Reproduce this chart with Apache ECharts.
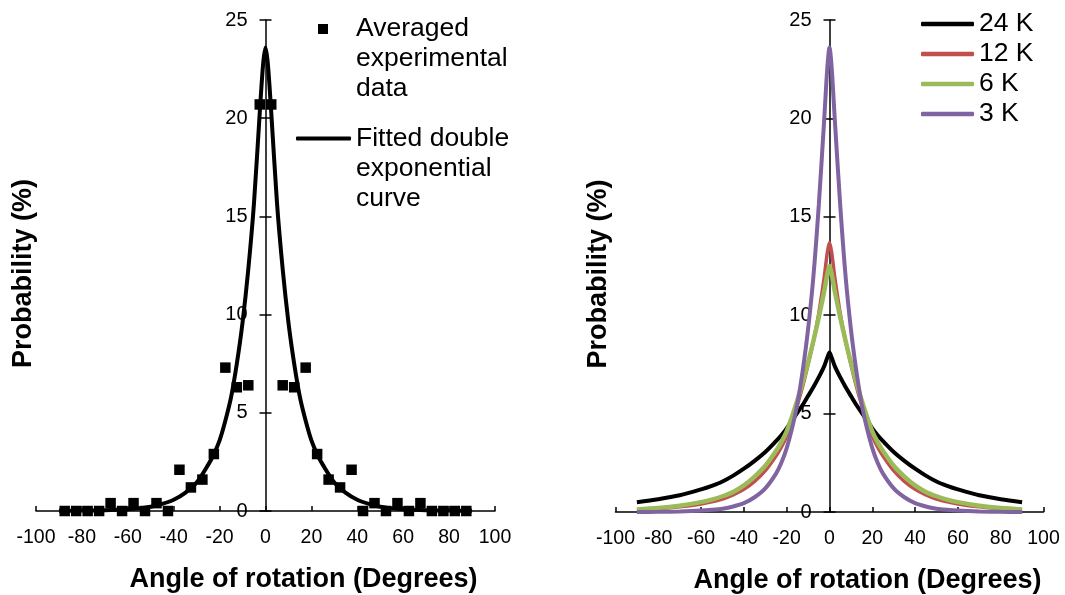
<!DOCTYPE html>
<html>
<head>
<meta charset="utf-8">
<script src="https://cdn.jsdelivr.net/npm/echarts@6/dist/echarts.min.js"></script>
<style>
html,body{margin:0;padding:0;background:#fff;}
#chart{width:1065px;height:595px;}
</style>
</head>
<body>
<div id="chart"></div>
<script>
// ---------- data ----------
const scatterAngles = [-87.5,-82.5,-77.5,-72.5,-67.5,-62.5,-57.5,-52.5,-47.5,-42.5,-37.5,-32.5,-27.5,-22.5,-17.5,-12.5,-7.5,-2.5,
  2.5,7.5,12.5,17.5,22.5,27.5,32.5,37.5,42.5,47.5,52.5,57.5,62.5,67.5,72.5,77.5,82.5,87.5];
const scatterValues = [0,0,0,0,0.4,0,0.4,0,0.4,0,2.1,1.2,1.6,2.9,7.3,6.3,6.4,20.7,
  20.7,6.4,6.3,7.3,2.9,1.6,1.2,2.1,0,0.4,0,0.4,0,0.4,0,0,0,0];

const curveAngles = [-90,-80,-70,-60,-55,-50,-45,-40,-35,-30,-25,-22.5,-20,-17.5,-15,-12.5,-10,-7.5,-5,-2.5,-1,0,
  1,2.5,5,7.5,10,12.5,15,17.5,20,22.5,25,30,35,40,45,50,55,60,70,80,90];

const fittedCurve = [0.01,0.02,0.04,0.09,0.14,0.22,0.36,0.57,0.92,1.45,2.35,2.9,3.6,4.6,5.8,7.5,9.6,12.3,15.7,20.3,22.8,23.6,
  22.8,20.3,15.7,12.3,9.6,7.5,5.8,4.6,3.6,2.9,2.35,1.45,0.92,0.57,0.36,0.22,0.14,0.09,0.04,0.02,0.01];

const curve24K = [0.5,0.65,0.85,1.15,1.33,1.55,1.85,2.2,2.6,3.05,3.6,3.9,4.25,4.65,5.05,5.45,5.9,6.35,6.85,7.4,7.85,8.1,
  7.85,7.4,6.85,6.35,5.9,5.45,5.05,4.65,4.25,3.9,3.6,3.05,2.6,2.2,1.85,1.55,1.33,1.15,0.85,0.65,0.5];
const curve12K = [0.1,0.16,0.26,0.41,0.52,0.66,0.87,1.15,1.55,2.1,2.85,3.3,3.85,4.6,5.45,6.4,7.5,8.7,10.1,11.9,13.2,13.7,
  13.2,11.9,10.1,8.7,7.5,6.4,5.45,4.6,3.85,3.3,2.85,2.1,1.55,1.15,0.87,0.66,0.52,0.41,0.26,0.16,0.1];
const curve6K = [0.13,0.2,0.32,0.5,0.63,0.8,1.02,1.35,1.8,2.35,3.1,3.55,4.1,4.85,5.7,6.6,7.6,8.7,9.9,11.2,12.1,12.5,
  12.1,11.2,9.9,8.7,7.6,6.6,5.7,4.85,4.1,3.55,3.1,2.35,1.8,1.35,1.02,0.8,0.63,0.5,0.32,0.2,0.13];
const curve3K = [0,0.01,0.03,0.07,0.11,0.17,0.28,0.45,0.75,1.2,1.95,2.5,3.25,4.25,5.5,7.2,9.3,12.0,15.6,19.9,22.6,23.6,
  22.6,19.9,15.6,12.0,9.3,7.2,5.5,4.25,3.25,2.5,1.95,1.2,0.75,0.45,0.28,0.17,0.11,0.07,0.03,0.01,0];

const xTickMin = -100, xTickMax = 100, xTickStep = 20;
const yTickMin = 0, yTickMax = 25, yTickStep = 5;

const leftNames = ['Averaged\nexperimental\ndata', 'Fitted double\nexponential\ncurve'];
const rightNames = ['24 K', '12 K', '6 K', '3 K'];
const rightColors = ['#000000', '#C0504D', '#9BBB59', '#8064A2'];
const xTitle = 'Angle of rotation (Degrees)';
const yTitle = 'Probability (%)';

// ---------- helpers ----------
const FONT = 'Liberation Sans, Arial, sans-serif';
const pairs = (xs, ys) => xs.map((x, i) => [x, ys[i]]);

// grid geometry (pixels)
const G = [
  { left: 36, right: 570, top: 20, bottom: 84, zeroX: 265.5, yNameGap: 228 },
  { left: 615.5, right: 21.5, top: 20, bottom: 83, zeroX: 829.5, yNameGap: 217 }
];

function xAxisFor(gridIndex) {
  return {
    type: 'value', gridIndex, min: xTickMin, max: xTickMax, interval: xTickStep,
    axisLine: { show: true, onZero: false, lineStyle: { color: '#000', width: 1.5 } },
    axisTick: { show: true, inside: true, length: 5, lineStyle: { color: '#000', width: 1.5 } },
    axisLabel: { color: '#000', fontSize: 19.5, fontFamily: FONT, margin: 17 },
    splitLine: { show: false },
    name: xTitle, nameLocation: 'middle', nameGap: 55,
    nameTextStyle: { color: '#000', fontSize: 27, fontWeight: 'bold', fontFamily: FONT, padding: [0, 0, 0, 76] }
  };
}
function yAxesFor(gridIndex) {
  const g = G[gridIndex];
  const base = {
    type: 'value', gridIndex, min: yTickMin, max: yTickMax, interval: yTickStep, position: 'left',
    offset: g.left - g.zeroX,
    splitLine: { show: false }
  };
  return [
    Object.assign({}, base, {
      axisLine: { show: true, onZero: false, lineStyle: { color: '#000', width: 1.5 } },
      axisTick: { show: true, inside: false, length: 6, lineStyle: { color: '#000', width: 1.5 } },
      axisLabel: { color: '#000', fontSize: 20, fontFamily: FONT, margin: 18 },
      name: yTitle, nameLocation: 'middle', nameGap: g.yNameGap,
      nameTextStyle: { color: '#000', fontSize: 27, fontWeight: 'bold', fontFamily: FONT, padding: [0, 16, 0, 0] }
    }),
    Object.assign({}, base, {
      axisLine: { show: false, onZero: false },
      axisTick: { show: true, inside: true, length: 6, lineStyle: { color: '#000', width: 1.5 } },
      axisLabel: { show: false }
    })
  ];
}

const legendText = { color: '#000', fontSize: 26.5, fontFamily: FONT, lineHeight: 30 };
const padTop = name => '\n\n' + name;

const option = {
  animation: false,
  backgroundColor: '#fff',
  grid: G.map(g => ({ left: g.left, right: g.right, top: g.top, bottom: g.bottom, outerBoundsMode: 'none' })),
  xAxis: [xAxisFor(0), xAxisFor(1)],
  yAxis: [].concat(yAxesFor(0), yAxesFor(1)),
  legend: [
    {
      data: [leftNames[0]], orient: 'vertical', left: 318, top: -46, padding: 0,
      itemWidth: 10, itemHeight: 10, selectedMode: false, formatter: padTop,
      itemStyle: { opacity: 1 },
      textStyle: Object.assign({}, legendText, { padding: [0, 0, 0, 23] })
    },
    {
      data: [{ name: leftNames[1], icon: 'roundRect' }], orient: 'vertical', left: 296, top: 63.5, padding: 0,
      itemWidth: 55, itemHeight: 4, selectedMode: false, formatter: padTop,
      textStyle: legendText
    },
    {
      data: rightNames.map(n => ({ name: n, icon: 'roundRect' })), orient: 'vertical', left: 921, top: 9, padding: 0, itemGap: 0,
      itemWidth: 53, itemHeight: 4.5, selectedMode: false,
      textStyle: legendText
    }
  ],
  series: [
    {
      name: leftNames[1], type: 'line', xAxisIndex: 0, yAxisIndex: 0,
      data: pairs(curveAngles, fittedCurve), symbol: 'none', smooth: 0.3,
      lineStyle: { color: '#000', width: 4 }, itemStyle: { color: '#000' }, z: 2
    },
    {
      name: leftNames[0], type: 'scatter', xAxisIndex: 0, yAxisIndex: 0,
      data: pairs(scatterAngles, scatterValues), symbol: 'rect', symbolSize: 10.5,
      itemStyle: { color: '#000', opacity: 1 }, z: 3
    }
  ].concat(rightNames.map((nm, i) => ({
    name: nm, type: 'line', xAxisIndex: 1, yAxisIndex: 2,
    data: pairs(curveAngles, [curve24K, curve12K, curve6K, curve3K][i]),
    symbol: 'none', smooth: 0.3,
    lineStyle: { color: rightColors[i], width: [4, 3.5, 4.5, 4][i] },
    itemStyle: { color: rightColors[i] }, z: 2 + i
  })))
};

const chart = echarts.init(document.getElementById('chart'), null, { renderer: 'canvas' });
chart.setOption(option);
</script>
</body>
</html>
